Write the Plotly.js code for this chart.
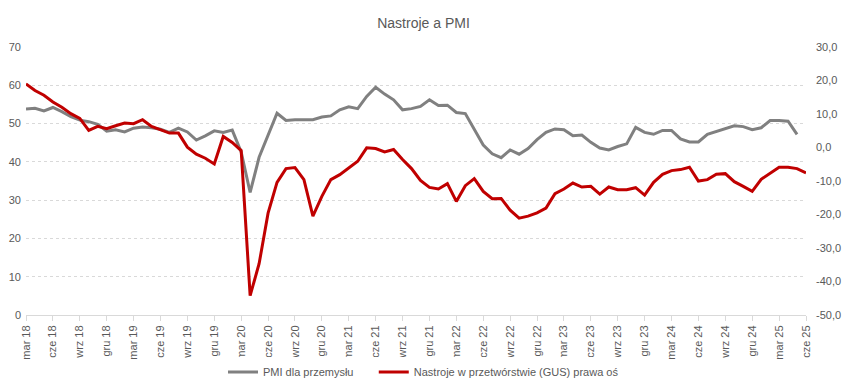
<!DOCTYPE html>
<html>
<head>
<meta charset="utf-8">
<script src="https://cdn.plot.ly/plotly-3.0.1.min.js"></script>
<style>html,body{margin:0;padding:0;background:#fff;}#chart{width:847px;height:387px;}</style>
</head>
<body>
<div id="chart"></div>
<script>
// Months from March 2018 to June 2025
const monthNames = ['sty','lut','mar','kwi','maj','cze','lip','sie','wrz','paź','lis','gru'];
const months = [];
for (let y = 2018; y <= 2025; y++) {
  for (let m = 0; m < 12; m++) {
    if (y === 2018 && m < 2) continue;
    if (y === 2025 && m > 5) continue;
    months.push(monthNames[m] + ' ' + String(y).slice(2));
  }
}

// PMI dla przemysłu (left axis)
const pmi = [
  53.8, 54.0, 53.3, 54.2, 53.1, 51.8, 50.9, 50.5, 49.8, 48.0,
  48.4, 47.8, 48.8, 49.1, 48.9, 48.5, 47.7, 48.8, 47.8, 45.7, 46.8, 48.1,
  47.7, 48.3, 42.6, 32.0, 41.2, 47.1, 52.7, 50.8, 51.0, 51.0, 51.0, 51.7,
  52.0, 53.6, 54.4, 53.9, 57.1, 59.5, 57.7, 56.2, 53.6, 53.9, 54.5, 56.2,
  54.7, 54.8, 52.9, 52.6, 48.4, 44.4, 42.1, 41.1, 43.1, 42.0, 43.5, 45.8,
  47.7, 48.6, 48.4, 46.8, 47.0, 45.1, 43.6, 43.1, 44.0, 44.7, 49.0, 47.7,
  47.2, 48.2, 48.2, 46.0, 45.2, 45.2, 47.2, 47.9, 48.8, 49.4, 49.2, 48.4,
  48.9, 50.8, 50.8, 50.6, 47.2, null
];

// Nastroje w przetwórstwie (GUS), right axis
const gus = [
  19.0, 17.0, 15.6, 13.6, 12.0, 10.1, 8.7, 5.1, 6.3, 5.6,
  6.5, 7.3, 7.1, 8.3, 6.3, 5.3, 4.3, 4.3, 0.1, -2.0, -3.2, -4.9,
  3.3, 1.5, -0.9, -44.2, -34.7, -19.6, -10.4, -6.3, -6.0, -9.6, -20.5, -14.6,
  -9.6, -8.1, -6.1, -4.1, -0.1, -0.3, -1.3, -0.6, -3.6, -6.3, -9.8, -11.9,
  -12.4, -10.8, -16.1, -11.4, -9.3, -13.1, -15.3, -15.2, -18.7, -21.1, -20.5, -19.5,
  -18.1, -13.8, -12.4, -10.6, -11.8, -11.6, -13.9, -11.8, -12.6, -12.6, -12.0, -14.2,
  -10.4, -8.0, -6.9, -6.6, -5.9, -10.0, -9.6, -8.0, -7.8, -10.2, -11.6, -13.1,
  -9.5, -7.8, -5.9, -5.9, -6.3, -7.6
];

const leftTicks = [0, 10, 20, 30, 40, 50, 60, 70];
const rightTicks = [-50, -40, -30, -20, -10, 0, 10, 20, 30];
const rightTickText = rightTicks.map(v => v.toFixed(1).replace('.', ','));

const font = 'Liberation Sans, Arial, sans-serif';
const labelColor = '#595959';
const pad = '\u00a0\u00a0\u00a0\u00a0\u00a0';

const traces = [
  {
    x: months, y: pmi, name: 'PMI dla przemysłu' + pad, type: 'scatter', mode: 'lines',
    line: {color: '#808080', width: 3}, yaxis: 'y', connectgaps: false
  },
  {
    x: months, y: gus, name: 'Nastroje w przetwórstwie (GUS) prawa oś', type: 'scatter', mode: 'lines',
    line: {color: '#c00000', width: 3}, yaxis: 'y2'
  }
];

const layout = {
  width: 847, height: 387,
  margin: {l: 26, r: 41, t: 47, b: 72, autoexpand: false},
  paper_bgcolor: '#ffffff', plot_bgcolor: '#ffffff',
  font: {family: font, size: 11, color: labelColor},
  title: {text: 'Nastroje a PMI', font: {family: font, size: 14, color: labelColor}, x: 0.5, xanchor: 'center', y: 0.94, yanchor: 'middle'},
  showlegend: true,
  legend: {orientation: 'h', xref: 'container', yref: 'container', x: 0.5, xanchor: 'center', y: 0.039, yanchor: 'middle', font: {family: font, size: 11, color: labelColor}, itemwidth: 30, tracegroupgap: 0},
  xaxis: {
    type: 'category', range: [0, months.length - 1], tick0: 0, dtick: 3, automargin: false,
    tickangle: -90, ticks: 'outside', ticklen: 5, tickcolor: '#d9d9d9',
    showline: true, linecolor: '#d9d9d9', linewidth: 1, showgrid: false, zeroline: false,
    tickfont: {family: font, size: 11, color: labelColor}, fixedrange: true
  },
  yaxis: {
    range: [0, 70], tickvals: leftTicks, ticks: '', showline: false, automargin: false,
    showgrid: true, gridcolor: '#d9d9d9', griddash: 'dot', gridwidth: 1, zeroline: false,
    tickfont: {family: font, size: 11, color: labelColor}, ticklabelstandoff: 4
  },
  yaxis2: {
    overlaying: 'y', side: 'right', range: [-50, 30], tickvals: rightTicks, ticktext: rightTickText,
    showgrid: false, zeroline: false, showline: false, ticks: '', automargin: false,
    tickfont: {family: font, size: 11, color: labelColor}, ticklabelstandoff: 9
  }
};

Plotly.newPlot('chart', traces, layout, {displayModeBar: false, staticPlot: true});
</script>
</body>
</html>
